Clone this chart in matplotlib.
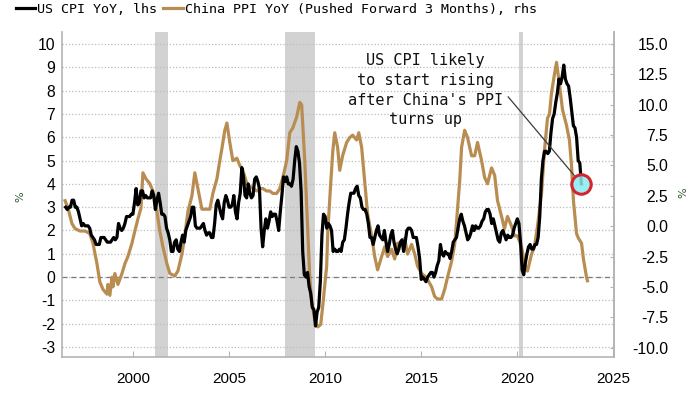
import matplotlib
matplotlib.use("Agg")
import matplotlib.pyplot as plt
import numpy as np

# ---------------- data ----------------
# US CPI YoY (%), monthly, starting Jul 1996 (left axis)
cpi_start_year = 1996
cpi_start_month = 7
cpi_values = [
    3.0, 2.9, 3.0, 3.0, 3.3, 3.3,
    3.0, 3.0, 2.8, 2.5, 2.2, 2.3, 2.2, 2.2, 2.2, 2.1, 1.8, 1.7,
    1.6, 1.4, 1.4, 1.4, 1.7, 1.7, 1.7, 1.6, 1.5, 1.5, 1.5, 1.6,
    1.7, 1.6, 1.7, 2.3, 2.1, 2.0, 2.1, 2.3, 2.6, 2.6, 2.6, 2.7,
    2.7, 3.2, 3.8, 3.1, 3.2, 3.7, 3.7, 3.4, 3.5, 3.4, 3.4, 3.4,
    3.7, 3.5, 2.9, 3.3, 3.6, 3.2, 2.7, 2.7, 2.6, 2.1, 1.9, 1.6,
    1.1, 1.1, 1.5, 1.6, 1.2, 1.1, 1.5, 1.8, 1.5, 2.0, 2.2, 2.4,
    2.6, 3.0, 3.0, 2.2, 2.1, 2.1, 2.1, 2.2, 2.3, 2.0, 1.8, 1.9,
    1.9, 1.7, 1.7, 2.3, 3.1, 3.3, 3.0, 2.7, 2.5, 3.2, 3.5, 3.3,
    3.0, 3.0, 3.1, 3.5, 2.8, 2.5, 3.2, 3.6, 4.7, 4.3, 3.5, 3.4,
    4.0, 3.6, 3.4, 3.5, 4.2, 4.3, 4.1, 3.8, 2.1, 1.3, 2.0, 2.5,
    2.1, 2.4, 2.8, 2.6, 2.7, 2.7, 2.4, 2.0, 2.8, 3.5, 4.3, 4.1,
    4.3, 4.0, 4.0, 3.9, 4.2, 5.0, 5.6, 5.4, 4.9, 3.7, 1.1, 0.1,
    0.0, 0.2, -0.4, -0.7, -1.3, -1.4, -2.1, -1.5, -1.3, -0.2, 1.8, 2.7,
    2.6, 2.1, 2.3, 2.2, 2.0, 1.1, 1.2, 1.1, 1.1, 1.2, 1.1, 1.5,
    1.6, 2.1, 2.7, 3.2, 3.6, 3.6, 3.6, 3.8, 3.9, 3.5, 3.4, 3.0,
    2.9, 2.9, 2.7, 2.3, 1.7, 1.7, 1.4, 1.7, 2.0, 2.2, 1.8, 1.7,
    1.6, 2.0, 1.5, 1.1, 1.4, 1.8, 2.0, 1.5, 1.2, 1.0, 1.2, 1.5,
    1.6, 1.1, 1.5, 2.0, 2.1, 2.1, 2.0, 1.7, 1.7, 1.7, 1.3, 0.8,
    -0.1, 0.0, -0.1, -0.2, 0.0, 0.1, 0.2, 0.2, 0.0, 0.2, 0.5, 0.7,
    1.4, 1.0, 0.9, 1.1, 1.0, 1.0, 0.8, 1.1, 1.5, 1.6, 1.7, 2.1,
    2.5, 2.7, 2.4, 2.2, 1.9, 1.6, 1.7, 1.9, 2.2, 2.0, 2.2, 2.1,
    2.1, 2.2, 2.4, 2.5, 2.8, 2.9, 2.9, 2.7, 2.3, 2.5, 2.2, 1.9,
    1.6, 1.5, 1.9, 2.0, 1.8, 1.6, 1.8, 1.7, 1.7, 1.8, 2.1, 2.3,
    2.5, 2.3, 1.5, 0.3, 0.1, 0.6, 1.0, 1.3, 1.4, 1.2, 1.2, 1.4,
    1.4, 1.7, 2.6, 4.2, 5.0, 5.4, 5.4, 5.3, 5.4, 6.2, 6.8, 7.0,
    7.5, 7.9, 8.5, 8.3, 8.6, 9.1, 8.5, 8.3, 8.2, 7.7, 7.1, 6.5,
    6.4, 6.0, 5.0, 4.9, 4.0,
]

# China PPI YoY (%), pushed forward 3 months (right axis)
ppi_dates = [
    1996.47, 1996.62, 1996.83, 1996.99, 1997.25, 1997.51, 1997.75, 1997.92,
    1998.13, 1998.28, 1998.44, 1998.65, 1998.70, 1998.80, 1998.91, 1998.96,
    1999.06, 1999.22, 1999.43, 1999.58, 1999.74, 1999.95, 2000.10, 2000.26,
    2000.42, 2000.52, 2000.68, 2000.88, 2001.04, 2001.25, 2001.40, 2001.56,
    2001.77, 2001.92, 2002.18, 2002.34, 2002.55, 2002.70, 2002.86, 2003.07,
    2003.22, 2003.38, 2003.59, 2003.79, 2004.00, 2004.16, 2004.37, 2004.52,
    2004.63, 2004.78, 2004.89, 2005.04, 2005.20, 2005.41, 2005.56, 2005.72,
    2005.93, 2006.08, 2006.24, 2006.44, 2006.60, 2006.76, 2006.96, 2007.12,
    2007.28, 2007.48, 2007.64, 2007.80, 2008.00, 2008.16, 2008.32, 2008.52,
    2008.68, 2008.78, 2008.94, 2009.10, 2009.20, 2009.30, 2009.46, 2009.62,
    2009.77, 2009.88, 2010.08, 2010.14, 2010.29, 2010.40, 2010.50, 2010.65,
    2010.76, 2010.91, 2011.12, 2011.28, 2011.43, 2011.64, 2011.75, 2011.90,
    2012.06, 2012.21, 2012.42, 2012.58, 2012.73, 2012.94, 2013.10, 2013.25,
    2013.46, 2013.62, 2013.77, 2013.98, 2014.14, 2014.29, 2014.50, 2014.66,
    2014.81, 2015.02, 2015.18, 2015.33, 2015.54, 2015.70, 2015.85, 2016.06,
    2016.22, 2016.37, 2016.58, 2016.74, 2016.84, 2017.00, 2017.10, 2017.26,
    2017.41, 2017.62, 2017.78, 2017.93, 2018.14, 2018.30, 2018.45, 2018.66,
    2018.82, 2018.97, 2019.18, 2019.33, 2019.49, 2019.70, 2019.85, 2020.01,
    2020.22, 2020.37, 2020.53, 2020.74, 2020.89, 2021.05, 2021.26, 2021.41,
    2021.57, 2021.67, 2021.78, 2021.93, 2022.04, 2022.19, 2022.35, 2022.56,
    2022.71, 2022.82, 2022.92, 2023.08, 2023.18, 2023.34, 2023.44, 2023.60,
    2023.65,
]
ppi_values = [
    2.1, 1.5, 0.2, -0.2, -0.4, -0.4, -0.6, -1.4,
    -3.1, -4.6, -5.2, -5.6, -4.8, -5.7, -4.2, -5.0,
    -3.9, -4.8, -3.9, -3.1, -2.5, -1.4, -0.4, 0.6,
    1.5, 4.4, 3.9, 3.5, 2.9, 1.2, -0.4, -1.7,
    -3.1, -3.9, -4.1, -3.7, -2.3, -0.8, 1.2, 2.5,
    4.4, 3.1, 1.4, 1.4, 1.4, 2.7, 3.9, 5.4,
    6.4, 7.9, 8.5, 6.9, 5.4, 5.6, 5.0, 4.6,
    3.5, 3.3, 3.1, 2.9, 3.1, 3.1, 2.9, 2.9,
    2.7, 2.7, 3.1, 4.0, 5.4, 7.7, 8.1, 9.0,
    10.2, 10.0, 5.4, -0.4, -4.2, -6.2, -7.7, -8.3,
    -8.1, -6.5, -3.3, -0.4, 3.5, 6.2, 7.7, 6.5,
    4.6, 5.8, 6.9, 7.3, 7.5, 7.1, 7.7, 6.5,
    3.7, 1.0, -0.8, -2.5, -3.6, -2.5, -1.7, -2.5,
    -1.9, -2.7, -1.4, -1.5, -1.0, -2.3, -1.5, -2.3,
    -3.3, -3.9, -4.1, -4.4, -5.0, -5.8, -6.0, -6.0,
    -5.2, -4.2, -2.9, -1.5, 0.4, 3.7, 6.5, 7.9,
    7.3, 5.8, 5.8, 6.9, 5.4, 4.0, 3.5, 4.8,
    4.2, 2.1, 0.8, -0.2, 0.8, 0.0, -0.8, -0.8,
    -1.7, -3.1, -3.7, -2.3, -1.7, 0.0, 2.7, 6.2,
    8.9, 9.2, 11.0, 12.5, 13.5, 11.7, 9.6, 8.3,
    7.1, 5.0, 2.1, -0.6, -1.0, -1.4, -2.7, -4.2,
    -4.5,
]

# recession shading (decimal years)
recessions = [(2001.17, 2001.83), (2007.92, 2009.45), (2020.1, 2020.28)]

left_ticks = list(range(-3, 11))
right_ticks = [-10.0, -7.5, -5.0, -2.5, 0.0, 2.5, 5.0, 7.5, 10.0, 12.5, 15.0]
x_ticks = [2000, 2005, 2010, 2015, 2020, 2025]

cpi_label = "US CPI YoY, lhs"
ppi_label = "China PPI YoY (Pushed Forward 3 Months), rhs"
note_text = "US CPI likely\nto start rising\nafter China's PPI\nturns up"

# ---------------- styling ----------------
TAN = "#B98D52"
SPINE = "#B4B4B4"
TICK_FONT = "Liberation Sans"
MONO = "DejaVu Sans Mono"

cpi_x = [cpi_start_year + (cpi_start_month - 1) / 12 + i / 12 for i in range(len(cpi_values))]

fig = plt.figure(figsize=(7.0, 3.94), dpi=100)
W, H = 700, 394
ax = fig.add_axes([62 / W, 1 - 357 / H, (614 - 62) / W, (357 - 32) / H])
ax2 = ax.twinx()   # right axis: China PPI
ax3 = ax.twinx()   # overlay on left scale: US CPI (drawn above PPI)

xlim = (1996.31, 2025.03)
ylim_l = (-3.43, 10.52)
ylim_r = (-10.78, 16.0)
for a in (ax, ax2, ax3):
    a.set_xlim(*xlim)
ax.set_ylim(*ylim_l)
ax3.set_ylim(*ylim_l)
ax2.set_ylim(*ylim_r)

# shading + grid on bottom axes
for s, e in recessions:
    ax.axvspan(s, e, color="#D2D2D2", lw=0, zorder=0)
ax.set_yticks(left_ticks)
ax.yaxis.grid(True, color="#BDBDBD", linestyle=(0, (1, 1.6)), linewidth=0.9, zorder=0.5)
ax.axhline(0, color="#7A7A7A", linestyle=(0, (4, 3)), linewidth=0.9, zorder=0.6)
ax.set_axisbelow(True)

# lines
l_ppi, = ax2.plot(ppi_dates, ppi_values, color=TAN, lw=2.3, solid_joinstyle="round")
l_cpi, = ax3.plot(cpi_x, cpi_values, color="black", lw=2.3, solid_joinstyle="round")

# circle marker at last CPI point
ax3.plot(cpi_x[-1], cpi_values[-1], marker="o", ms=14, mfc=(0.55, 0.92, 0.95, 0.85),
         mec="#D3252E", mew=2.2, zorder=5)

ax3.annotate(note_text, xy=(cpi_x[-1], cpi_values[-1]), xytext=(2015.2, 8.02),
             ha="center", va="center", multialignment="center",
             fontsize=11, family=MONO, linespacing=1.38, color="#111111",
             arrowprops=dict(arrowstyle="-", color="#3A3A3A", lw=0.9,
                             relpos=(1.0, 0.5), shrinkA=3, shrinkB=8))

# axes formatting
for a in (ax, ax2, ax3):
    a.spines["top"].set_visible(False)
ax3.axis("off")
for sp in ("left", "bottom", "right"):
    ax.spines[sp].set_color(SPINE)
    ax.spines[sp].set_linewidth(1.2)
ax2.spines["right"].set_color(SPINE)
ax2.spines["right"].set_linewidth(1.2)
ax2.spines["left"].set_visible(False)
ax2.spines["bottom"].set_visible(False)

ax.set_xticks(x_ticks)
ax.set_xticklabels([str(t) for t in x_ticks], fontfamily=TICK_FONT, fontsize=11)
ax.tick_params(axis="x", direction="in", length=4, color=SPINE, pad=11)
ax.set_yticklabels([str(t) for t in left_ticks], fontfamily=TICK_FONT, fontsize=11.3)
ax.tick_params(axis="y", length=0, pad=5)

ax2.set_yticks(right_ticks)
ax2.set_yticklabels([f"{t:.1f}" for t in right_ticks], fontfamily=TICK_FONT, fontsize=11.3)
ax2.tick_params(axis="y", direction="in", length=3, color=SPINE, pad=39)
for lab in ax2.get_yticklabels():
    lab.set_horizontalalignment("right")

# % labels
fig.text(20 / W, 1 - 197 / H, "%", rotation=90, color="#2E5A2E", fontsize=8,
         ha="center", va="center")
fig.text(683 / W, 1 - 193 / H, "%", rotation=90, color="#2E5A2E", fontsize=8,
         ha="center", va="center")

# legend
fig.legend(handles=[l_cpi, l_ppi], labels=[cpi_label, ppi_label],
           loc="upper left", bbox_to_anchor=(16 / W, 1 - 3 / H), ncol=2,
           frameon=False, prop={"family": MONO, "size": 9.6},
           handlelength=1.45, handletextpad=0.15, columnspacing=0.45,
           borderpad=0, borderaxespad=0)

fig.savefig("out.png", dpi=100)
